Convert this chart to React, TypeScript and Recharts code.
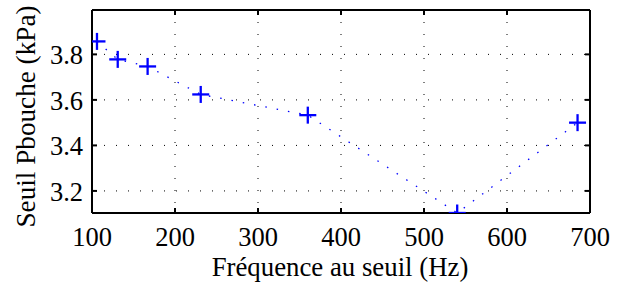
import React from "react";
import { LineChart, Line, XAxis, YAxis, CartesianGrid, Label } from "recharts";

const freqHz = [106, 131, 167, 231, 360, 540, 685];
const pressureKPa = [3.857, 3.778, 3.747, 3.624, 3.533, 3.103, 3.5];
const xTicks = [100, 200, 300, 400, 500, 600, 700];
const yTicks = [3.2, 3.4, 3.6, 3.8];
const xLabel = "Fréquence au seuil (Hz)";
const yLabel = "Seuil Pbouche (kPa)";

const data = freqHz.map((f, i) => ({ f, p: pressureKPa[i] }));

const FONT = "Liberation Serif";
const BLUE = "#0000FF";

const PlusMark = (props: any) => {
  const { cx, cy, index } = props;
  if (cx == null || cy == null) return <g key={index} />;
  const r = 8.5;
  return (
    <g key={index}>
      <line x1={cx - r} y1={cy} x2={cx + r} y2={cy} stroke={BLUE} strokeWidth={2.3} />
      <line x1={cx} y1={cy - r} x2={cx} y2={cy + r} stroke={BLUE} strokeWidth={2.3} />
    </g>
  );
};

const EmptyTick = () => <g />;

const XTick = (props: any) => {
  const { x, y, payload } = props;
  return (
    <text x={x} y={y} dy={18.5} textAnchor="middle" fontFamily={FONT} fontSize={26.5} fill="#000" style={{ fontFamily: FONT }}>
      {payload.value}
    </text>
  );
};

const YTick = (props: any) => {
  const { x, y, payload } = props;
  return (
    <text x={x} y={y} dy={10} textAnchor="end" fontFamily={FONT} fontSize={26.5} fill="#000" style={{ fontFamily: FONT }}>
      {payload.value.toFixed(1)}
    </text>
  );
};

export default function App() {
  return (
    <div style={{ position: "absolute", left: 0, top: 0, background: "#fff", fontFamily: FONT }}>
      <LineChart
        width={626}
        height={285}
        data={data}
        margin={{ top: 0, right: 0, bottom: 0, left: 0 }}
        style={{ fontFamily: FONT }}
      >
        <CartesianGrid
          stroke="#000"
          strokeDasharray="1 11"
          strokeWidth={1}
          xAxisId={0}
          yAxisId={0}
        />
        <XAxis
          xAxisId={0}
          dataKey="f"
          type="number"
          domain={[100, 700]}
          ticks={xTicks}
          allowDataOverflow
          height={72}
          tickSize={-5}
          tickMargin={19}
          tick={XTick}
          axisLine={{ stroke: "#000", strokeWidth: 2 }}
          tickLine={{ stroke: "#000", strokeWidth: 2 }}
          interval={0}
        >
          <Label
            content={() => (
              <text
                x={340}
                y={276}
                textAnchor="middle"
                fontFamily={FONT}
                fontSize={26.8}
                fill="#000"
                style={{ fontFamily: FONT }}
              >
                {xLabel}
              </text>
            )}
          />
        </XAxis>
        <XAxis
          xAxisId="top"
          orientation="top"
          dataKey="f"
          type="number"
          domain={[100, 700]}
          ticks={xTicks}
          allowDataOverflow
          height={10}
          tickSize={-5}
          tick={EmptyTick}
          axisLine={{ stroke: "#000", strokeWidth: 2 }}
          tickLine={{ stroke: "#000", strokeWidth: 2 }}
          interval={0}
        />
        <YAxis
          yAxisId={0}
          type="number"
          domain={[3.103, 3.995]}
          ticks={yTicks}
          allowDataOverflow
          width={92}
          tickSize={-5}
          tickMargin={14}
          tick={YTick}
          axisLine={{ stroke: "#000", strokeWidth: 2 }}
          tickLine={{ stroke: "#000", strokeWidth: 2 }}
          interval={0}
        >
          <Label
            content={() => (
              <text
                x={35}
                y={116.5}
                transform="rotate(-90 35 116.5)"
                textAnchor="middle"
                fontFamily={FONT}
                fontSize={27.2}
                fill="#000"
                style={{ fontFamily: FONT }}
              >
                {yLabel}
              </text>
            )}
          />
        </YAxis>
        <YAxis
          yAxisId="right"
          orientation="right"
          type="number"
          domain={[3.103, 3.995]}
          ticks={yTicks}
          allowDataOverflow
          width={36}
          tickSize={-5}
          tick={EmptyTick}
          axisLine={{ stroke: "#000", strokeWidth: 2 }}
          tickLine={{ stroke: "#000", strokeWidth: 2 }}
          interval={0}
        />
        <Line
          xAxisId={0}
          yAxisId={0}
          type="linear"
          dataKey="p"
          stroke={BLUE}
          strokeWidth={1.3}
          strokeDasharray="1.5 10"
          dot={PlusMark}
          activeDot={false}
          isAnimationActive={false}
        />
      </LineChart>
    </div>
  );
}
